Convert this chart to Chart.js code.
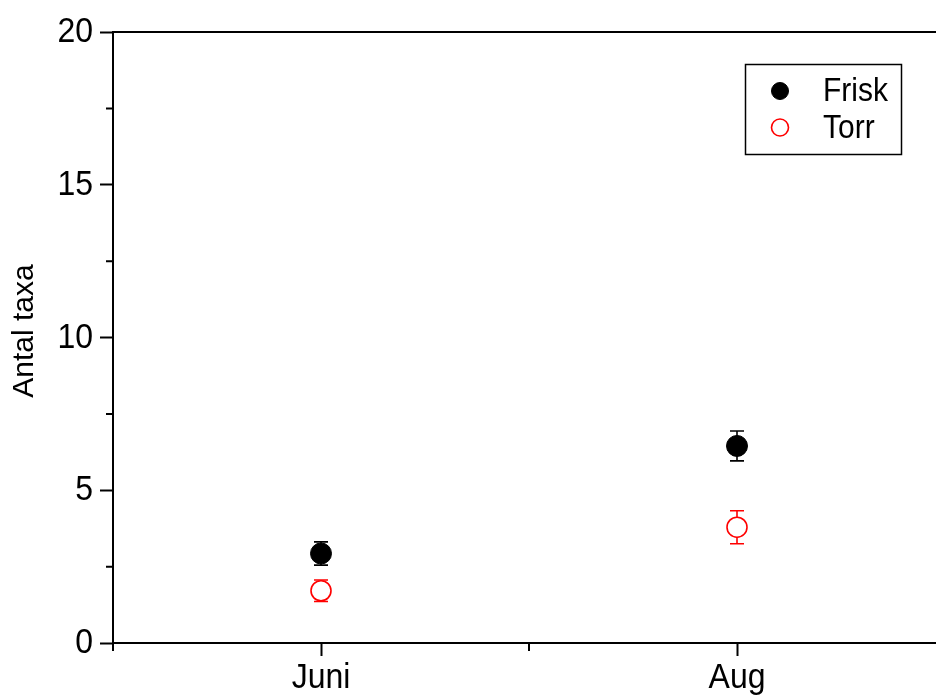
<!DOCTYPE html>
<html>
<head>
<meta charset="utf-8">
<script src="https://cdn.jsdelivr.net/npm/chart.js@4/dist/chart.umd.min.js"></script>
<style>
  html, body { margin: 0; padding: 0; background: #fff; overflow: hidden; }
  #wrap { width: 936px; height: 698px; overflow: hidden; }
  canvas { display: block; }
</style>
</head>
<body>
<div id="wrap"><canvas id="c" width="960" height="698"></canvas></div>
<script>
// Sampling months and mean number of taxa (± standard error)
const months = ['Juni', 'Aug'];
const friskMean = [2.93, 6.45];
const friskErr = [0.38, 0.49];
const torrMean = [1.71, 3.79];
const torrErr = [0.35, 0.54];
const yTicks = [0, 5, 10, 15, 20];
const yTitle = 'Antal taxa';

const FONT = "'Liberation Sans', Arial, sans-serif";
const RED = '#ff0000';
const TALL = 1.08; // slightly tall lettering

const datasets = [
  {
    label: 'Frisk',
    data: months.map((m, i) => ({ x: i + 1, y: friskMean[i] })),
    err: friskErr,
    pointRadius: 10.5,
    pointHoverRadius: 10.5,
    backgroundColor: '#000',
    borderColor: '#000',
    borderWidth: 1,
    showLine: false
  },
  {
    label: 'Torr',
    data: months.map((m, i) => ({ x: i + 1, y: torrMean[i] })),
    err: torrErr,
    pointRadius: 10,
    pointHoverRadius: 10,
    backgroundColor: '#fff',
    borderColor: RED,
    borderWidth: 1.6,
    showLine: false
  }
];

function tallText(ctx, text, x, y, align) {
  ctx.save();
  ctx.textAlign = align;
  ctx.textBaseline = 'alphabetic';
  ctx.translate(x, y);
  ctx.scale(1, TALL);
  ctx.fillText(text, 0, 0);
  ctx.restore();
}

// Error bars with caps, drawn beneath the markers
const errorBars = {
  id: 'errorBars',
  beforeDatasetsDraw(chart) {
    const ctx = chart.ctx;
    const xs = chart.scales.x, ys = chart.scales.y;
    ctx.save();
    chart.data.datasets.forEach(ds => {
      ctx.strokeStyle = ds.borderColor;
      ctx.lineWidth = 1.6;
      ds.data.forEach((p, i) => {
        const x = xs.getPixelForValue(p.x);
        const yTop = ys.getPixelForValue(p.y + ds.err[i]);
        const yBot = ys.getPixelForValue(p.y - ds.err[i]);
        const cap = 7;
        ctx.beginPath();
        ctx.moveTo(x, yTop); ctx.lineTo(x, yBot);
        ctx.moveTo(x - cap, yTop); ctx.lineTo(x + cap, yTop);
        ctx.moveTo(x - cap, yBot); ctx.lineTo(x + cap, yBot);
        ctx.stroke();
      });
    });
    ctx.restore();
  }
};

// Frame, minor ticks, tick labels, axis title and legend box
const decorations = {
  id: 'decorations',
  afterDraw(chart) {
    const ctx = chart.ctx;
    const a = chart.chartArea;
    const xs = chart.scales.x, ys = chart.scales.y;
    ctx.save();
    ctx.strokeStyle = '#000';
    ctx.lineWidth = 2;
    // top and right frame lines
    ctx.beginPath();
    ctx.moveTo(a.left, a.top); ctx.lineTo(a.right, a.top);
    ctx.moveTo(a.right, a.top); ctx.lineTo(a.right, a.bottom);
    ctx.stroke();
    // minor ticks on y
    ctx.beginPath();
    for (let v = 2.5; v < 20; v += 5) {
      const y = ys.getPixelForValue(v);
      ctx.moveTo(a.left, y); ctx.lineTo(a.left - 7, y);
    }
    // minor ticks on x (between categories and at the ends)
    for (let v = 0.5; v <= 2.5; v += 1) {
      const x = xs.getPixelForValue(v);
      ctx.moveTo(x, a.bottom); ctx.lineTo(x, a.bottom + 8);
    }
    ctx.stroke();

    // tick labels
    ctx.fillStyle = '#000';
    ctx.font = '32px ' + FONT;
    ys.ticks.forEach(t => {
      tallText(ctx, String(t.value), a.left - 20, ys.getPixelForValue(t.value) + 10, 'right');
    });
    xs.ticks.forEach(t => {
      tallText(ctx, months[Math.round(t.value) - 1], xs.getPixelForValue(t.value), a.bottom + 45, 'center');
    });

    // y axis title
    ctx.font = '30px ' + FONT;
    ctx.save();
    ctx.textAlign = 'center';
    ctx.textBaseline = 'middle';
    ctx.translate(25, 331);
    ctx.rotate(-Math.PI / 2);
    ctx.fillText(yTitle, 0, 0);
    ctx.restore();

    // legend
    ctx.lineWidth = 1.5;
    ctx.strokeStyle = '#000';
    ctx.strokeRect(745.5, 64.5, 156, 90);
    ctx.font = '30px ' + FONT;
    chart.data.datasets.forEach((ds, i) => {
      const y = 91 + i * 36.5;
      ctx.beginPath();
      ctx.arc(780, y, 8.5, 0, Math.PI * 2);
      ctx.fillStyle = ds.backgroundColor;
      ctx.fill();
      ctx.lineWidth = ds.borderWidth;
      ctx.strokeStyle = ds.borderColor;
      ctx.stroke();
      ctx.fillStyle = '#000';
      tallText(ctx, ds.label, 823, 101 + i * 37, 'left');
    });
    ctx.restore();
  }
};

new Chart(document.getElementById('c'), {
  type: 'scatter',
  data: { datasets },
  options: {
    responsive: false,
    animation: false,
    events: [],
    layout: { padding: { top: 32, right: 15, left: 0, bottom: 0 } },
    plugins: { legend: { display: false }, tooltip: { enabled: false } },
    scales: {
      x: {
        type: 'linear',
        min: 0.5,
        max: 2.5,
        afterBuildTicks: s => { s.ticks = months.map((m, i) => ({ value: i + 1 })); },
        afterFit: s => { s.height = 55; },
        ticks: { display: false },
        grid: { drawOnChartArea: false, drawTicks: true, tickLength: 13, tickWidth: 2, tickColor: '#000' },
        border: { display: true, color: '#000', width: 2 }
      },
      y: {
        min: 0,
        max: 20,
        afterBuildTicks: s => { s.ticks = yTicks.map(v => ({ value: v })); },
        afterFit: s => { s.width = 113; },
        ticks: { display: false },
        grid: { drawOnChartArea: false, drawTicks: true, tickLength: 13, tickWidth: 2, tickColor: '#000' },
        border: { display: true, color: '#000', width: 2 }
      }
    }
  },
  plugins: [errorBars, decorations]
});
</script>
</body>
</html>
